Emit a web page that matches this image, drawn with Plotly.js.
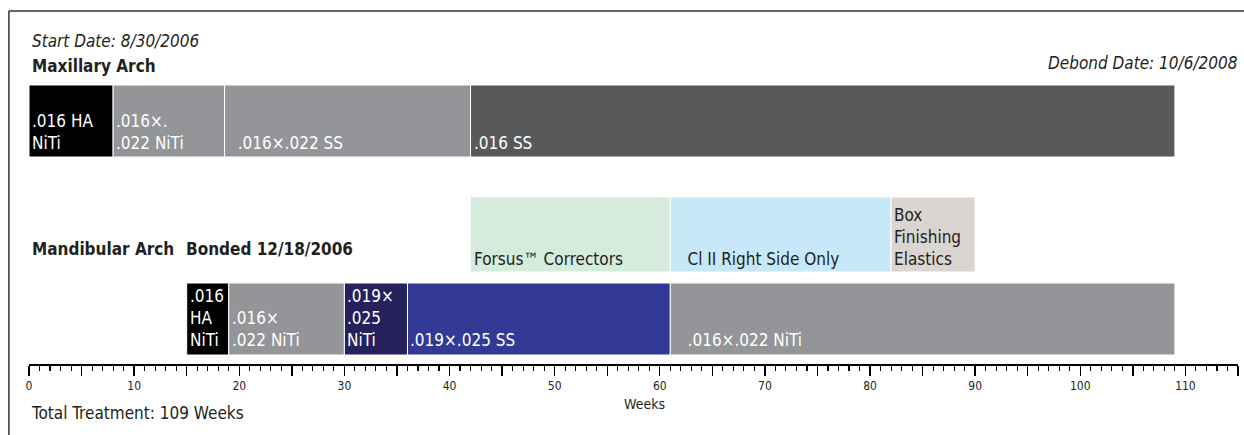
<!DOCTYPE html>
<html><head><meta charset="utf-8">
<script src="https://cdn.plot.ly/plotly-3.0.1.min.js"></script>
<style>html,body{margin:0;padding:0;background:#fff}#chart{width:1244px;height:435px}</style>
</head><body><div id="chart"></div>
<script>
// ---- data (weeks from start of treatment) ----
const maxLabels = [".016 HA<br>NiTi", ".016×.<br>.022 NiTi", "\u00a0\u00a0.016×.022 SS", ".016 SS"];
const maxStart = [0, 8, 18.6, 42];
const maxEnd = [8, 18.6, 42, 109];

const elasticLabels = ["Forsus™ Correctors", "\u00a0\u00a0\u00a0Cl II Right Side Only", "Box<br>Finishing<br>Elastics"];
const elasticStart = [42, 61, 82];
const elasticEnd = [61, 82, 90];

const mandLabels = [".016<br>HA<br>NiTi", ".016×<br>.022 NiTi", ".019×<br>.025<br>NiTi", ".019×.025 SS", "\u00a0\u00a0\u00a0.016×.022 NiTi"];
const mandStart = [15, 19, 30, 36, 61];
const mandEnd = [19, 30, 36, 61, 109];

const weekTickVals = [0, 5, 10, 15, 20, 25, 30, 35, 40, 45, 50, 55, 60, 65, 70, 75, 80, 85, 90, 95, 100, 105, 110, 115];
const weekTickText = ["0", "", "10", "", "20", "", "30", "", "40", "", "50", "", "60", "", "70", "", "80", "", "90", "", "100", "", "110", ""];

// ---- styles ----
const FONT = 'Liberation Sans Narrow, "DejaVu Sans Condensed", Arial Narrow, sans-serif';
const INK = '#231f20';
const maxColors = ['#000000', '#939598', '#939598', '#58595b'];
const elasticColors = ['#d5ebdc', '#c7e8f8', '#dbd5d1'];
const mandColors = ['#000000', '#939598', '#26215c', '#323a96', '#939598'];
const maxTextColor = '#ffffff', elasticTextColor = INK, mandTextColor = '#ffffff';

const rows = [
  {labels: maxLabels, start: maxStart, end: maxEnd, colors: maxColors, y: 2.43, w: 0.72, tc: maxTextColor, ys: 2},
  {labels: elasticLabels, start: elasticStart, end: elasticEnd, colors: elasticColors, y: 1.295, w: 0.75, tc: elasticTextColor, ys: 1},
  {labels: mandLabels, start: mandStart, end: mandEnd, colors: mandColors, y: 0.45, w: 0.72, tc: mandTextColor, ys: 3}
];

const traces = rows.map(r => ({
  type: 'bar', orientation: 'h',
  base: r.start,
  x: r.start.map((s, i) => r.end[i] - s),
  y: r.start.map(() => r.y),
  width: r.w,
  marker: {color: r.colors, line: {color: '#ffffff', width: 1}},
  hoverinfo: 'skip', showlegend: false
}));

const annotations = [];
rows.forEach(r => {
  r.labels.forEach((t, i) => {
    annotations.push({
      x: r.start[i], y: r.y - r.w / 2, xref: 'x', yref: 'y',
      text: t, showarrow: false, xanchor: 'left', yanchor: 'bottom', align: 'left',
      xshift: 1, yshift: r.ys,
      font: {family: FONT, size: 17, color: r.tc}
    });
  });
});

function note(text, x, y, opts) {
  annotations.push(Object.assign({
    text: text, x: x, y: y, xref: 'paper', yref: 'paper', showarrow: false,
    xanchor: 'left', yanchor: 'middle', font: {family: FONT, size: 17, color: INK}
  }, opts || {}));
}
note('<i>Start Date: 8/30/2006</i>', 0.001, 0.915);
note('<b>Maxillary Arch</b>', 0.001, 0.844);
note('<i>Debond Date: 10/6/2008</i>', 1.002, 0.853, {xanchor: 'right'});
note('<b>Mandibular Arch</b>', 0.001, 0.326);
note('<b>Bonded 12/18/2006</b>', 0.128, 0.326);
note('Total Treatment: 109 Weeks', 0.0, -0.139);
note('Weeks', 0.5087, -0.113, {xanchor: 'center', font: {family: FONT, size: 14, color: INK}});

const layout = {
  width: 1244, height: 435,
  margin: {l: 29, r: 6, t: 11, b: 71},
  paper_bgcolor: '#ffffff', plot_bgcolor: '#ffffff',
  barmode: 'overlay',
  xaxis: {
    range: [0, 115], showgrid: false, zeroline: false,
    showline: true, linecolor: '#000000', linewidth: 1.5,
    ticks: 'outside', ticklen: 10, tickwidth: 1.4, tickcolor: '#000000',
    tickvals: weekTickVals, ticktext: weekTickText,
    tickfont: {family: FONT, size: 12, color: INK},
    minor: {dtick: 1, ticks: 'outside', ticklen: 5, tickwidth: 1.1, tickcolor: '#000000', showgrid: false},
    fixedrange: true
  },
  yaxis: {range: [0, 3.53], visible: false, fixedrange: true},
  annotations: annotations,
  shapes: [
    {type: 'line', xref: 'paper', yref: 'paper', x0: -0.0166, x1: -0.0166, y0: 1, y1: -0.3, line: {color: '#333333', width: 1.5}},
    {type: 'line', xref: 'paper', yref: 'paper', x0: -0.0166, x1: 1.01, y0: 1, y1: 1, line: {color: '#333333', width: 1.5}}
  ]
};

Plotly.newPlot('chart', traces, layout, {displayModeBar: false, staticPlot: true});
</script>
</body></html>
